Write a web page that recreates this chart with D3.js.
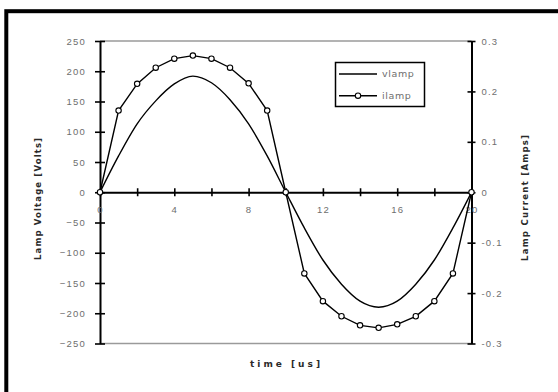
<!DOCTYPE html>
<html>
<head>
<meta charset="utf-8">
<script src="https://cdn.jsdelivr.net/npm/d3@7"></script>
<style>
  html, body { margin: 0; padding: 0; background: #fff; }
  svg { display: block; font-family: "DejaVu Sans", "Liberation Sans", Arial, sans-serif; }
</style>
</head>
<body>
<svg id="chart" width="558" height="392"></svg>
<script>
// Sample times (microseconds)
const time = [0, 1, 2, 3, 4, 5, 6, 7, 8, 9, 10, 11, 12, 13, 14, 15, 16, 17, 18, 19, 20];
// Lamp voltage (Volts), left axis
const vlamp = [0, 60, 113, 151, 179, 192, 181, 153, 113, 60, 0, -59, -112, -152, -180, -190, -180, -152, -112, -59, 0];
// Lamp current (Amps), right axis
const ilamp = [0, 0.162, 0.215, 0.247, 0.265, 0.271, 0.265, 0.247, 0.216, 0.162, 0,
               -0.161, -0.216, -0.246, -0.264, -0.269, -0.262, -0.246, -0.216, -0.161, 0];

const voltageTicks = [-250, -200, -150, -100, -50, 0, 50, 100, 150, 200, 250];
const currentTicks = [-0.3, -0.2, -0.1, 0, 0.1, 0.2, 0.3];
const currentTickLabels = ["-0.3", "-0.2", "-0.1", "0", "0.1", "0.2", "0.3"];
const timeTicks = [0, 2, 4, 6, 8, 10, 12, 14, 16, 18, 20];
const timeTickLabels = [0, 4, 8, 12, 16, 20];

(function draw() {
  const svg = d3.select("#chart");

  // Outer frame (only the left and top edges fall inside the canvas)
  svg.append("rect")
    .attr("x", 6.3).attr("y", 11.2)
    .attr("width", 600).attr("height", 420)
    .attr("fill", "none").attr("stroke", "#000").attr("stroke-width", 4);

  const plotLeft = 100, plotRight = 471.5, plotTop = 41, plotBottom = 343.5;

  const x = d3.scaleLinear().domain([0, 20]).range([plotLeft, plotRight]);
  const yV = d3.scaleLinear().domain([-250, 250]).range([plotBottom, plotTop]);
  const yI = d3.scaleLinear().domain([-0.3, 0.3]).range([plotBottom, plotTop]);

  // Plot area top and bottom edges
  [plotTop, plotBottom].forEach(yy => {
    svg.append("line")
      .attr("x1", plotLeft).attr("x2", plotRight).attr("y1", yy).attr("y2", yy)
      .attr("stroke", "#9a9a9a").attr("stroke-width", 1.5);
  });

  const tickColor = "#6e6e6e";
  const tickFont = 9.5;

  function styleAxis(g) {
    g.select(".domain").attr("stroke", "#000").attr("stroke-width", 2);
    g.selectAll(".tick line").attr("stroke", "#000").attr("stroke-width", 1.6);
    g.selectAll(".tick text")
      .attr("fill", tickColor)
      .style("font-size", tickFont + "px")
      .style("letter-spacing", "1.2px");
  }

  // Left axis (voltage)
  const gL = svg.append("g").attr("transform", `translate(${plotLeft},0)`)
    .call(d3.axisLeft(yV).tickValues(voltageTicks).tickSizeInner(5).tickSizeOuter(0).tickPadding(9));
  styleAxis(gL);
  gL.selectAll(".tick line").attr("x1", 5);

  // Right axis (current)
  const gR = svg.append("g").attr("transform", `translate(${plotRight},0)`)
    .call(d3.axisRight(yI).tickValues(currentTicks).tickSizeInner(4).tickSizeOuter(0).tickPadding(6)
      .tickFormat((d, i) => currentTickLabels[i]));
  styleAxis(gR);
  gR.selectAll(".tick line").attr("x1", -4);

  // Time axis along zero volts
  const gX = svg.append("g").attr("transform", `translate(0,${yV(0)})`)
    .call(d3.axisBottom(x).tickValues(timeTicks).tickSizeInner(4).tickSizeOuter(0).tickPadding(10)
      .tickFormat(d => timeTickLabels.includes(d) ? d : ""));
  styleAxis(gX);
  gX.selectAll(".tick line").attr("y1", -4);

  // Voltage curve
  const vLine = d3.line()
    .x((d, i) => x(time[i]))
    .y(d => yV(d))
    .curve(d3.curveMonotoneX);
  svg.append("path")
    .datum(vlamp)
    .attr("d", vLine)
    .attr("fill", "none").attr("stroke", "#000").attr("stroke-width", 1.4);

  // Current curve with markers
  const iLine = d3.line()
    .x((d, i) => x(time[i]))
    .y(d => yI(d));
  svg.append("path")
    .datum(ilamp)
    .attr("d", iLine)
    .attr("fill", "none").attr("stroke", "#000").attr("stroke-width", 1.4);
  svg.append("g").selectAll("circle")
    .data(ilamp)
    .join("circle")
    .attr("cx", (d, i) => x(time[i]))
    .attr("cy", d => yI(d))
    .attr("r", 2.7)
    .attr("fill", "#fff").attr("stroke", "#000").attr("stroke-width", 1.1);

  // Axis titles
  const titleColor = "#2a2a2a";
  svg.append("text")
    .attr("transform", `translate(41,199) rotate(-90)`)
    .attr("text-anchor", "middle")
    .attr("fill", titleColor)
    .style("font-size", "8.5px").style("font-weight", "bold")
    .attr("textLength", 122).attr("lengthAdjust", "spacing")
    .text("Lamp Voltage [Volts]");

  svg.append("text")
    .attr("transform", `translate(528,198) rotate(-90)`)
    .attr("text-anchor", "middle")
    .attr("fill", titleColor)
    .style("font-size", "8.5px").style("font-weight", "bold")
    .attr("textLength", 126).attr("lengthAdjust", "spacing")
    .text("Lamp Current [Amps]");

  svg.append("text")
    .attr("x", 285).attr("y", 367)
    .attr("text-anchor", "middle")
    .attr("fill", titleColor)
    .style("font-size", "9px").style("font-weight", "bold")
    .attr("textLength", 70).attr("lengthAdjust", "spacing")
    .text("time [us]");

  // Legend
  const lg = svg.append("g");
  lg.append("rect")
    .attr("x", 335.5).attr("y", 62.5).attr("width", 89).attr("height", 44)
    .attr("fill", "#fff").attr("stroke", "#000").attr("stroke-width", 1.5);
  const legendItems = ["vlamp", "ilamp"];
  legendItems.forEach((name, k) => {
    const yy = 74 + k * 21.7;
    lg.append("line")
      .attr("x1", 339).attr("x2", 377).attr("y1", yy).attr("y2", yy)
      .attr("stroke", "#000").attr("stroke-width", 1.4);
    if (k === 1) {
      lg.append("circle").attr("cx", 358).attr("cy", yy).attr("r", 2.7)
        .attr("fill", "#fff").attr("stroke", "#000").attr("stroke-width", 1.1);
    }
    lg.append("text")
      .attr("x", 382).attr("y", yy + 3.4)
      .attr("fill", tickColor)
      .style("font-size", tickFont + "px")
      .style("letter-spacing", "0.6px")
      .text(name);
  });
})();
</script>
</body>
</html>
